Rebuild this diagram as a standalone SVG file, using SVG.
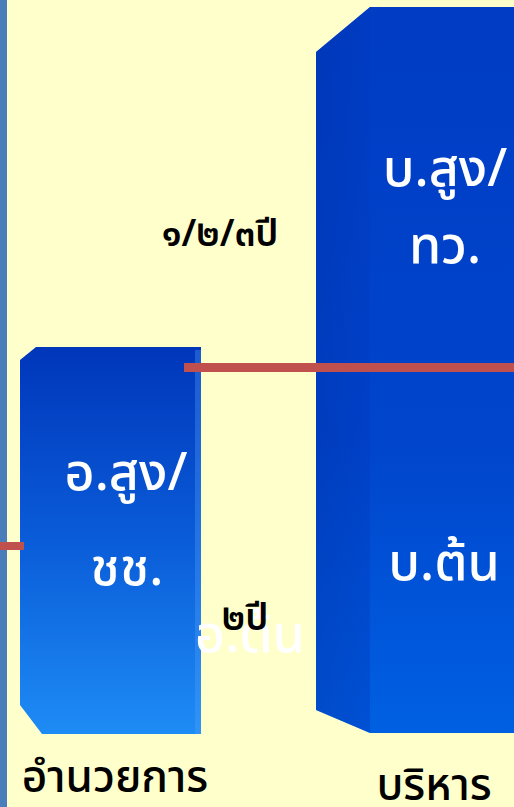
<svg xmlns="http://www.w3.org/2000/svg" width="514" height="807" viewBox="0 0 514 807">
<defs>
<linearGradient id="gL" x1="0" y1="0" x2="0" y2="1">
<stop offset="0" stop-color="#0036BA"/>
<stop offset="0.5" stop-color="#0A5CD8"/>
<stop offset="1" stop-color="#1E8CF5"/>
</linearGradient>
<linearGradient id="gR" x1="0" y1="0" x2="0" y2="1">
<stop offset="0" stop-color="#003CC4"/>
<stop offset="0.6" stop-color="#0045CC"/>
<stop offset="1" stop-color="#0060E2"/>
</linearGradient>
<linearGradient id="gRside" x1="0" y1="0" x2="1" y2="0">
<stop offset="0" stop-color="#0030A8"/>
<stop offset="1" stop-color="#003ABF"/>
</linearGradient>
<style>
.w{fill:#FFFFFF;font-family:"Noto Sans","Noto Sans Thai",Tahoma,sans-serif;font-size:52px;font-weight:500;text-anchor:middle}
.b{fill:#000000;font-family:"Noto Sans","Noto Sans Thai",Tahoma,sans-serif;text-anchor:middle}
.red{fill:#C0504D}
</style>
</defs>
<rect width="514" height="807" fill="#FFFFCC"/>
<rect x="0" y="0" width="7" height="807" fill="#4A7EBB"/>
<g id="box-right">
<path d="M316,52 L370,7 L514,7 L514,733 L370,733 L316,710 Z" fill="url(#gR)"/>
<path d="M316,52 L370,7 L370,733 L316,710 Z" fill="url(#gRside)" opacity="0.4"/>
<text class="w" x="445" y="186">บ.สูง/</text>
<text class="w" x="445" y="263">ทว.</text>
<text class="w" x="444" y="580">บ.ต้น</text>
</g>
<g id="box-left">
<path d="M20,360 L36,347 L201,347 L201,734 L42,734 L20,705 Z" fill="url(#gL)"/>
<rect x="195" y="350" width="6" height="384" fill="#4FA0F8" opacity="0.35"/>
<text class="w" x="126" y="490">อ.สูง/</text>
<text class="w" x="127" y="585">ชช.</text>
</g>
<g id="connectors">
<rect class="red" x="184" y="363" width="330" height="9"/>
<rect class="red" x="0" y="542" width="24" height="8"/>
</g>
<g id="labels">
<text class="w" x="250" y="652">อ.ต้น</text>
<text class="b" x="220" y="246" font-size="37" font-weight="600">๑/๒/๓ปี</text>
<text class="b" x="245" y="630" font-size="37" font-weight="600">๒ปี</text>
<text class="b" x="115" y="792" font-size="44" font-weight="500">อำนวยการ</text>
<text class="b" x="434" y="800" font-size="44" font-weight="500">บริหาร</text>
</g>
</svg>
